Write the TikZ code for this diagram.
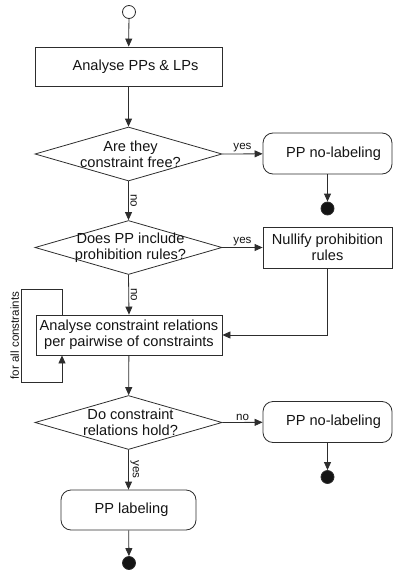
\documentclass[tikz,border=0pt]{standalone}
\usepackage{fontspec}
\setmainfont{Liberation Sans}
\usepackage{xcolor}
\usepackage{tikz}
\usetikzlibrary{arrows.meta,positioning,shapes.geometric,calc}
\definecolor{flowline}{RGB}{45,45,45}
\definecolor{flowtext}{RGB}{20,20,20}

\begin{document}
\begin{tikzpicture}[x=1pt,y=1pt,>={Triangle[length=8pt,width=7pt]},
  line width=0.8pt,color=flowline,
  txt/.style={font=\fontsize{14.6}{16}\selectfont,text=flowtext,align=center},
  lbl/.style={font=\fontsize{11.6}{13}\selectfont,text=flowtext,inner sep=1.5pt},
  act/.style={txt,draw,inner sep=0pt,minimum width=187pt,minimum height=39pt},
  softact/.style={txt,draw,rounded corners=10pt,inner sep=0pt,minimum width=129pt,minimum height=41pt},
  decide/.style={draw,diamond,inner sep=0pt,minimum width=187pt,minimum height=54pt},
  initial/.style={draw,circle,inner sep=0pt,minimum size=13pt},
  final/.style={draw,fill=flowtext,circle,inner sep=0pt,minimum size=13pt}]
  \useasboundingbox (0,0) rectangle (393,-575);

  % main column
  \node[initial] (start) at (129,-12) {};
  \node[act] (anapp) at (128.5,-66.5) {\hspace*{14pt}Analyse PPs \& LPs};
  \node[decide,label={[txt,xshift=2pt]center:Are they\\constraint free?}] (free) at (128.5,-154) {};
  \node[decide,label={[txt,xshift=2pt]center:Does PP include\\prohibition rules?}] (prohib) at (128.5,-247.5) {};
  \node[act,minimum width=186pt,minimum height=40pt] (relations) at (129,-335)
    {Analyse constraint relations\\per pairwise of constraints};
  \node[decide,label={[txt,xshift=2pt]center:Do constraint\\relations hold?}] (hold) at (128.5,-422.5) {};
  \node[softact,minimum width=135pt,minimum height=40pt] (labeling) at (128.5,-510) {\hspace*{6pt}PP labeling};
  \node[final] (end3) at (129,-563) {};

  % right column
  \node[softact] (nolab1) at (327.5,-153.5) {\hspace*{12pt}PP no-labeling};
  \node[final] (end1) at (327.5,-208.5) {};
  \node[act,minimum width=129pt,minimum height=41pt] (nullify) at (327.5,-247.5) {Nullify prohibition\\rules};
  \node[softact] (nolab2) at (327.5,-422) {\hspace*{12pt}PP no-labeling};
  \node[final] (end2) at (327.5,-477) {};

  % loop corners
  \coordinate (looptop) at (21,-289);
  \coordinate (loopbot) at (21,-382);

  % connectors
  \draw[->] (start) -- (anapp);
  \draw[->] (anapp) -- (free);
  \draw[->] (free.east) -- node[lbl,above] {yes} (nolab1);
  \draw[->] (nolab1) -- (end1);
  \draw[->] (free.south) -- node[lbl,rotate=-90,anchor=south] {no} (prohib.north);
  \draw[->] (prohib.east) -- node[lbl,above] {yes} (nullify);
  \draw[->] (prohib.south) -- node[lbl,rotate=-90,anchor=south] {no} (relations.north);
  \draw[->] (nullify.south) |- (relations.east);
  \draw[->] ([xshift=-67pt]relations.north) |- (looptop)
    -- node[lbl,rotate=90,anchor=south] {for all constraints} (loopbot)
    -| ([xshift=-67pt]relations.south);
  \draw[->] (relations) -- (hold);
  \draw[->] (hold.east) -- node[lbl,above] {no} (nolab2);
  \draw[->] (nolab2) -- (end2);
  \draw[->] (hold.south) -- node[lbl,rotate=-90,anchor=south] {yes} (labeling);
  \draw[->] (labeling) -- (end3);
\end{tikzpicture}
\end{document}
